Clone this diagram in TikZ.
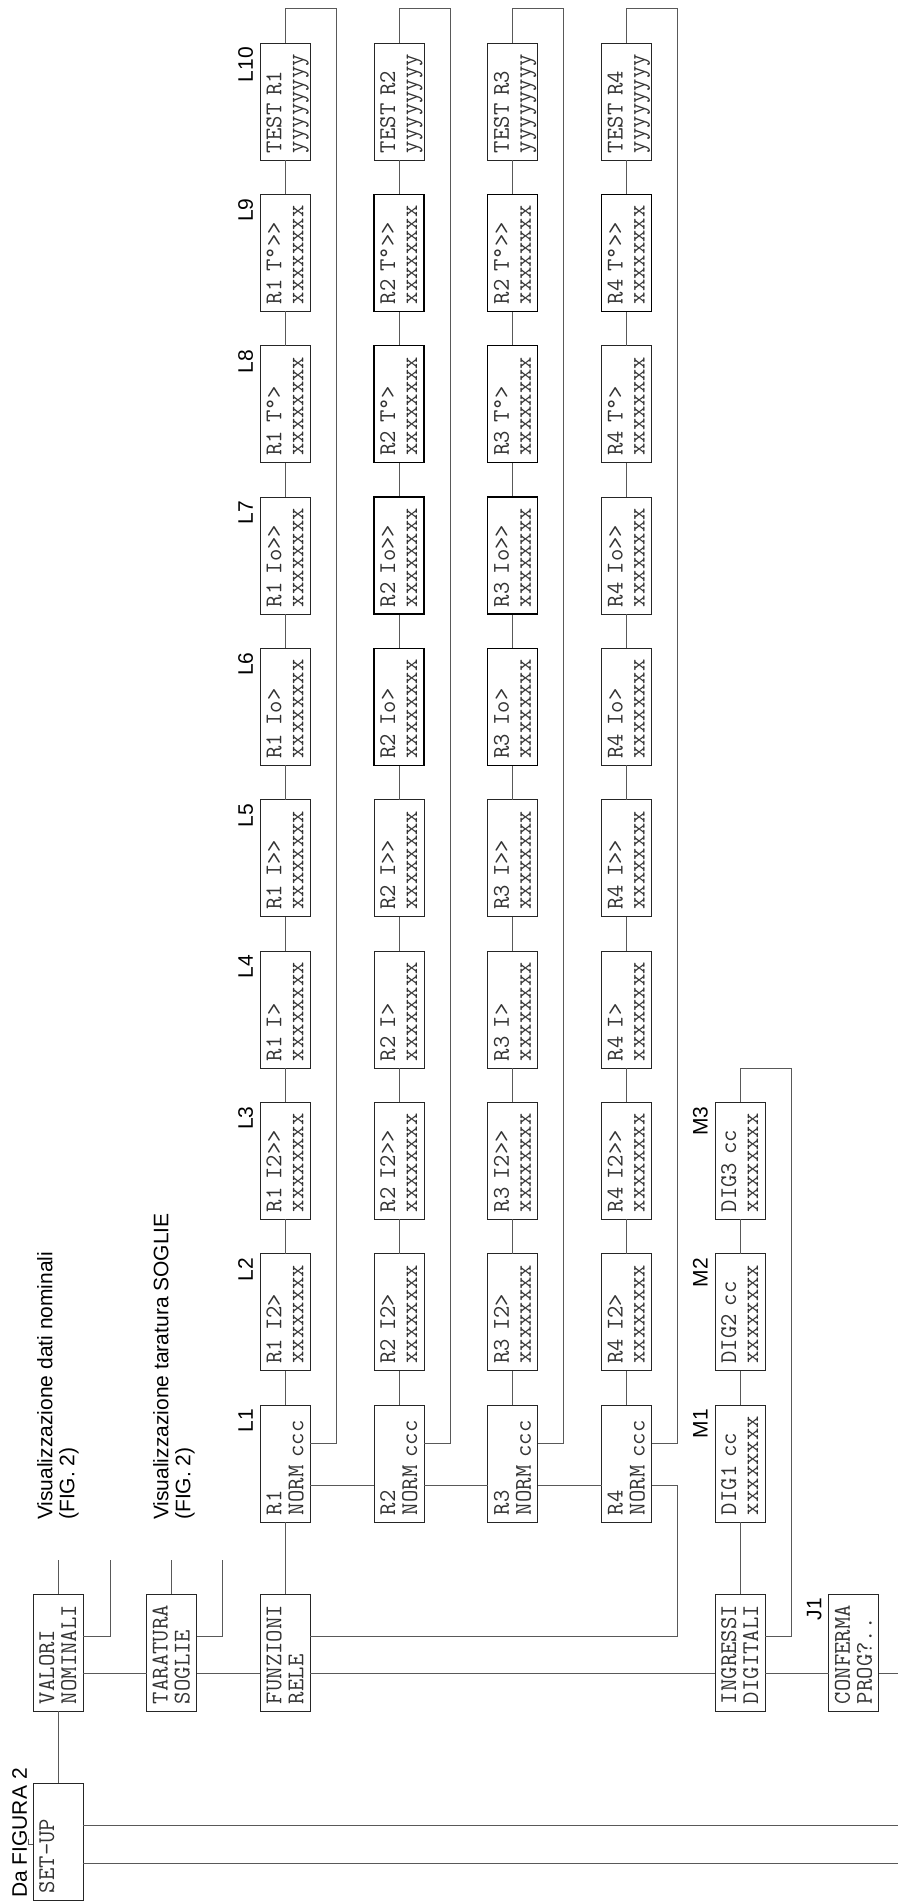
\documentclass[tikz,border=0pt]{standalone}
\usepackage{fontspec}
\newfontfamily\sansf{Liberation Sans}
\newcommand\bxt[2]{\noindent\rule{0pt}{20pt}#1\\#2\rule[-6pt]{0pt}{6pt}}
\begin{document}
\begin{tikzpicture}[x=1pt,y=1pt,
  box/.style={draw=black!85, line width=1pt, rotate=90, minimum width=117pt,
    minimum height=50pt, text width=103pt, inner xsep=7pt, inner ysep=1pt,
    align=left, font=\ttfamily\fontsize{24}{22}\selectfont, text=black!80, outer sep=0pt},
  heavy/.style={line width=1.3pt, draw=black},
  wire/.style={draw=black!65, line width=1pt},
  lab/.style={rotate=90, inner sep=0pt, font=\sansf\fontsize{21}{22}\selectfont},
]
\useasboundingbox (0,0) rectangle (898,-1903);
\fill[white] (0,0) rectangle (898,-1903);

% bottom row
\node[box] (setup) at (58,-1841.5) {\bxt{SET-UP}{}};
\node[box] (val) at (58,-1652.5) {\bxt{VALORI}{NOMINALI}};
\node[box] (tar) at (171.7,-1652.5) {\bxt{TARATURA}{SOGLIE}};
\node[box] (fun) at (285.4,-1652.5) {\bxt{FUNZIONI}{RELE}};
\node[box] (ing) at (740.2,-1652.5) {\bxt{INGRESSI}{DIGITALI}};
\node[box] (conf) at (853.9,-1652.5) {\bxt{CONFERMA}{PROG?..}};

% relay rows
\foreach \r/\cx/\q in {1/285.4/1, 2/399.1/2, 3/512.8/2, 4/626.5/4} {
  \node[box] (R\r-1) at (\cx,-1463.5) {\bxt{R\r}{NORM ccc}};
  \foreach \j/\t in {2/I2>, 3/I2>>, 4/I>, 5/I>>, 6/Io>, 7/Io>>, 8/T°>} {
    \node[box] (R\r-\j) at (\cx,{-(1463.5-151.33*(\j-1))}) {\bxt{R\r{} \t}{xxxxxxxx}};
  }
  \node[box] (R\r-9) at (\cx,-252.8) {\bxt{R\q{} T°>>}{xxxxxxxx}};
  \node[box] (R\r-10) at (\cx,-101.5) {\bxt{TEST R\r}{yyyyyyyy}};
  \foreach \j [count=\k from 2] in {1,...,9} {
    \draw[wire] (R\r-\j.east) -- (R\r-\k.west);
  }
  \draw[wire] (R\r-10.east) -- ++(0,35) -| ([xshift=26pt,yshift=-38pt]R\r-1.south east)
    -- ([yshift=-38pt]R\r-1.south east);
}
\foreach \r [count=\s from 2] in {1,2,3} {
  \draw[wire] ([yshift=-80pt]R\r-1.south east) -- ([yshift=-80pt]R\s-1.north east);
}
% slightly heavier outlines seen on some boxes
\foreach \n in {R2-6,R2-7,R2-8,R2-9,R3-6,R3-7,R3-8,R3-9,R4-9} {
  \draw[heavy] (\n.north west) rectangle (\n.south east);
}

% digital inputs
\node[box] (M1) at (740.2,-1463.5) {\bxt{DIG1 cc}{xxxxxxxx}};
\node[box] (M2) at (740.2,-1312.2) {\bxt{DIG2 cc}{xxxxxxxx}};
\node[box] (M3) at (740.2,-1160.8) {\bxt{DIG3 cc}{xxxxxxxx}};
\draw[wire] (ing.east) -- (M1.west);
\draw[wire] (M1.east) -- (M2.west);
\draw[wire] (M2.east) -- (M3.west);
\draw[wire] ([yshift=-42pt]ing.south east) -- ++(26,0) |- ([yshift=34pt]M3.east) -- (M3.east);

% main connections
\draw[wire] (setup.east) -- (val.west);
\draw[wire] ([yshift=-79pt]val.south east) -- ([yshift=-79pt]tar.north east);
\draw[wire] ([yshift=-79pt]tar.south east) -- ([yshift=-79pt]fun.north east);
\draw[wire] ([yshift=-79pt]fun.south east) -- ([yshift=-79pt]ing.north east);
\draw[wire] ([yshift=-79pt]ing.south east) -- ([yshift=-79pt]conf.north east);
\draw[wire] ([yshift=-79pt]conf.south east) -- ++(19,0);
\draw[wire] (fun.east) -- (R1-1.west);
\draw[wire] ([yshift=-42pt]fun.south east) -| ([xshift=26pt,yshift=-80pt]R4-1.south east)
  -- ([yshift=-80pt]R4-1.south east);
\draw[wire] (val.east) -- ++(0,34);
\draw[wire] ([yshift=-42pt]val.south east) -- ++(27,0) -- ++(0,76);
\draw[wire] (tar.east) -- ++(0,34);
\draw[wire] ([yshift=-42pt]tar.south east) -- ++(26,0) -- ++(0,76);
\draw[wire] ([yshift=-42pt]setup.south east) -- ++(815,0);
\draw[wire] ([yshift=-80pt]setup.south east) -- ++(815,0);
\draw[wire] ([yshift=56pt]setup.north west) -- ++(-5,0) -- ++(0,5);

% labels
\foreach \j in {1,...,10} {
  \node[lab, anchor=base east] (lL\j) at ([xshift=-7.5pt,yshift=-4pt]R1-\j.north east) {L\j};
}
\foreach \j in {1,2,3} {
  \node[lab, anchor=base east] (lM\j) at ([xshift=-7.5pt,yshift=-4pt]M\j.north east) {M\j};
}
\node[lab, anchor=base east] (lJ1) at ([xshift=-7.5pt,yshift=-4pt]conf.north east) {J1};
\node[lab, anchor=base west] (daf) at ([xshift=-6pt,yshift=2pt]setup.north west) {Da FIGURA 2};
\node[lab, anchor=north west, align=left] (v1) at (37,-1520) {Visualizzazione dati nominali\\(FIG. 2)};
\node[lab, anchor=north west, align=left] (v2) at (153,-1520) {Visualizzazione taratura SOGLIE\\(FIG. 2)};
\end{tikzpicture}
\end{document}
